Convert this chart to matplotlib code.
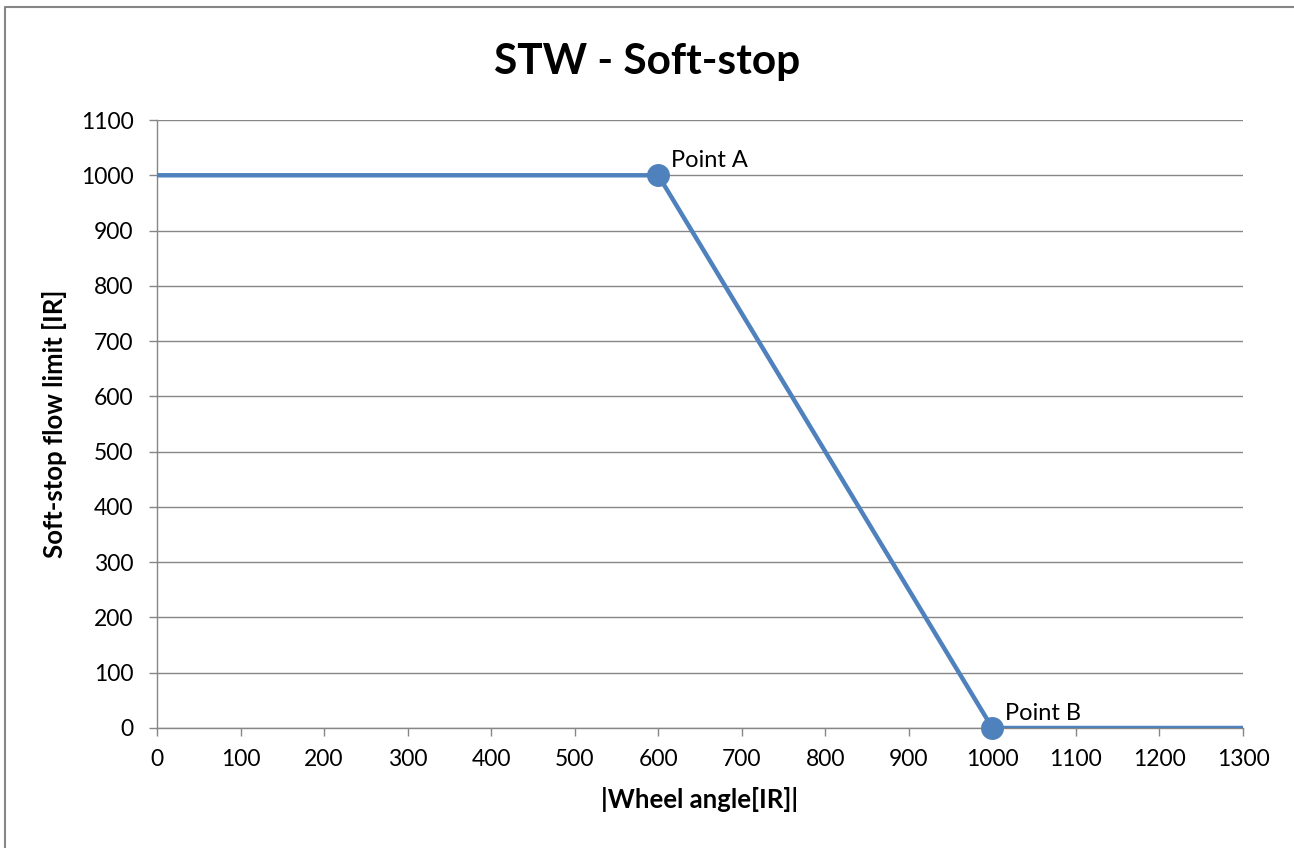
import matplotlib
matplotlib.use("Agg")
import matplotlib.pyplot as plt
from matplotlib.lines import Line2D

# data
wheel_angle = [0, 600, 1000, 1300]
flow_limit = [1000, 1000, 0, 0]
point_x = [600, 1000]
point_y = [1000, 0]
point_labels = ["Point A", "Point B"]

xticks = list(range(0, 1301, 100))
yticks = list(range(0, 1101, 100))

plt.rcParams['font.family'] = ['Lato', 'DejaVu Sans']

blue = '#4F81BD'
grey = '#868686'

W, H = 1294, 848
fig = plt.figure(figsize=(W / 100, H / 100), dpi=100)
ax = fig.add_axes([157/W, 1 - 728/H, (1243 - 157)/W, (728 - 120)/H])

# chart border: only top and left edges are visible in the reference
fig.add_artist(Line2D([5/W, 5/W, 1.02], [-0.02, 1 - 7/H, 1 - 7/H],
                      transform=fig.transFigure, color=grey, linewidth=1.5))

ax.plot(wheel_angle, flow_limit, color=blue, linewidth=3.2, solid_capstyle='butt', zorder=3)
ax.plot(point_x, point_y, 'o', color=blue, markersize=15.5, zorder=4, clip_on=False)
for x, y, lab in zip(point_x, point_y, point_labels):
    ax.annotate(lab, (x, y), xytext=(9, 3), textcoords='offset points',
                fontsize=17, va='bottom', ha='left')

ax.set_xlim(0, 1300)
ax.set_ylim(0, 1100)
ax.set_xticks(xticks)
ax.set_yticks(yticks)
ax.tick_params(labelsize=16.5, length=6, color=grey, width=1)
ax.tick_params(axis='y', pad=11)
ax.tick_params(axis='x', pad=9)
ax.grid(axis='y', color=grey, linewidth=1)
ax.set_axisbelow(True)
for s in ['top', 'right']:
    ax.spines[s].set_visible(False)
for s in ['left', 'bottom']:
    ax.spines[s].set_color(grey)
    ax.spines[s].set_linewidth(1)

fig.text(0.5, 1 - 62/H, 'STW - Soft-stop', fontsize=30.5, fontweight='bold',
         ha='center', va='center')
ax.set_xlabel('|Wheel angle[IR]|', fontsize=18.5, fontweight='bold', labelpad=12)
ax.set_ylabel('Soft-stop flow limit [IR]', fontsize=18.5, fontweight='bold', labelpad=10)

fig.savefig('out.png', dpi=100)
